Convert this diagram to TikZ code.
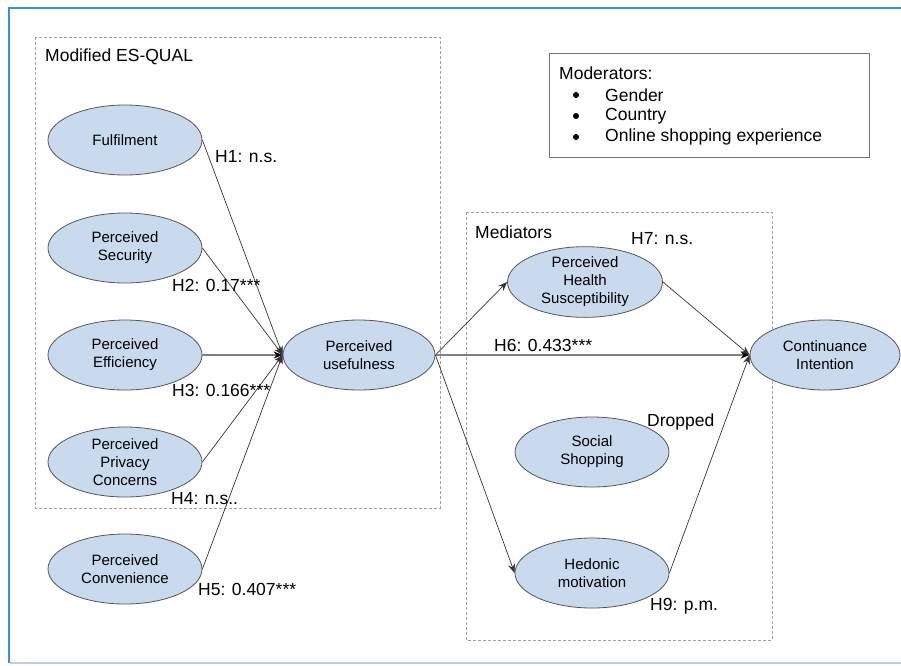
\documentclass[tikz,border=0pt]{standalone}
\usepackage{fontspec}
\setmainfont{Liberation Sans}
\usetikzlibrary{shapes.geometric,arrows.meta}
\definecolor{ellfill}{RGB}{201,218,238}
\definecolor{ellline}{RGB}{85,85,85}
\definecolor{framblue}{RGB}{58,142,224}
\definecolor{framlight}{RGB}{180,210,236}
\definecolor{dashgray}{RGB}{160,160,160}
\tikzset{
  x=1pt,y=-1pt,
  ell/.style={ellipse,draw=ellline,fill=ellfill,line width=0.8pt,minimum width=154pt,minimum height=70pt,inner sep=0pt,align=center,font=\fontsize{15}{18}\selectfont},
  lbl/.style={anchor=west,inner sep=0pt,font=\fontsize{17.5}{20}\selectfont},
  arr/.style={draw=black!80,line width=0.7pt,-{Stealth[length=9pt,width=7pt]}},
  arrh/.style={draw=black!50,line width=1.6pt,-{Stealth[length=9pt,width=7pt,color=black]}},
  grp/.style={draw=dashgray,dashed,dash pattern=on 3pt off 2pt,line width=1pt}
}
\begin{document}
\begin{tikzpicture}
\useasboundingbox (0,0) rectangle (901,665);
% frame
\draw[framblue,line width=1.5pt] (901,8) -- (9,8) -- (9,663);
\draw[framlight,line width=2pt] (10,663) -- (901,663);
% groups
\draw[grp] (35,37) rectangle (440,508);
\node[lbl] (tq) at (45,57) {Modified ES-QUAL};
\draw[grp] (466,212) rectangle (772,640);
\node[lbl] (tm) at (475,232) {Mediators};
% moderators
\draw[draw=black!55,line width=1pt] (549,53) rectangle (869,157);
\node[lbl] (mod) at (559,73) {Moderators:};
\foreach \yy/\tt in {95/Gender,116/Country,137/Online shopping experience}{
  \fill (576,\yy) circle (3pt);
  \node[lbl] at (605,\yy) {\tt};
}
% ellipses
\node[ell] (ful) at (125,140) {Fulfilment};
\node[ell] (sec) at (125,248) {Perceived\\Security};
\node[ell] (eff) at (125,355) {Perceived\\Efficiency};
\node[ell] (pri) at (125,462) {Perceived\\Privacy\\Concerns};
\node[ell] (con) at (125,569) {Perceived\\Convenience};
\node[ell,minimum width=152pt] (pu) at (359,355) {Perceived\\usefulness};
\node[ell,minimum width=155pt] (phs) at (585,282) {Perceived\\Health\\Susceptibility};
\node[ell] (soc) at (592,452) {Social\\Shopping};
\node[ell] (hed) at (592,573) {Hedonic\\motivation};
\node[ell,minimum width=150pt] (ci) at (825,355) {Continuance\\Intention};
% arrows
\draw[arr] (ful.east) -- (pu.west);
\draw[arr] (sec.east) -- (pu.west);
\draw[arrh] (eff.east) -- (pu.west);
\draw[arr] (pri.east) -- (pu.west);
\draw[arr] (con.east) -- (pu.west);
\draw[arr] (pu.east) -- (phs.west);
\draw[arrh] (pu.east) -- (ci.west);
\draw[arr] (pu.east) -- (hed.west);
\draw[arr] (phs.east) -- (ci.west);
\draw[arr] (hed.east) -- (ci.west);
% labels
\node[lbl] (h1) at (215,157) {H1: n.s.};
\node[lbl] (h2) at (172,285) {H2: 0.17***};
\node[lbl] (h3) at (172,390) {H3: 0.166***};
\node[lbl] (h4) at (171,499) {H4: n.s..};
\node[lbl] (h5) at (198,589) {H5: 0.407***};
\node[lbl] (h6) at (494,345) {H6: 0.433***};
\node[lbl] (h7) at (631,239) {H7: n.s.};
\node[lbl] (dr) at (647,422) {Dropped};
\node[lbl] (h9) at (650,606) {H9: p.m.};
\end{tikzpicture}
\end{document}
